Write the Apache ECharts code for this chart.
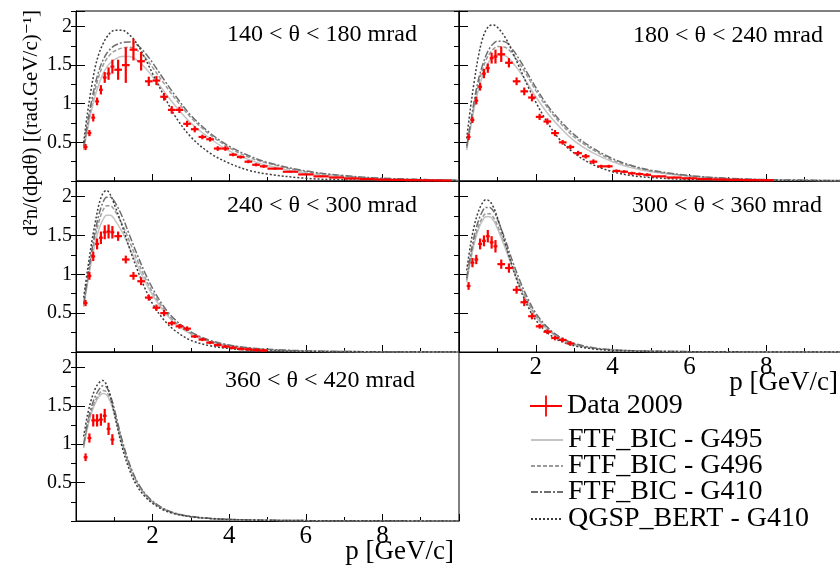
<!DOCTYPE html>
<html>
<head>
<meta charset="utf-8">
<script src="https://cdn.jsdelivr.net/npm/echarts@6/dist/echarts.min.js"></script>
<style>
  html, body { margin: 0; padding: 0; background: #fff; }
  #chart { width: 840px; height: 568px; }
</style>
</head>
<body>
<div id="chart"></div>
<script>
// ---- data: pion momentum spectra in five polar-angle slices ----

// data bins: centres and half widths [GeV/c]
const BIN_CENTER = [0.25, 0.35, 0.45, 0.55, 0.65, 0.75, 0.85, 0.95,
  1.1, 1.3, 1.5, 1.7, 1.9, 2.1, 2.3, 2.5, 2.7, 2.9, 3.1, 3.3, 3.5, 3.7, 3.9, 4.1, 4.3, 4.5, 4.7, 4.9,
  5.2, 5.6, 6.0, 6.4, 6.8, 7.2, 7.6, 8.0, 8.4, 8.8, 9.2, 9.6];
const BIN_HALF = [0.05, 0.05, 0.05, 0.05, 0.05, 0.05, 0.05, 0.05,
  0.1, 0.1, 0.1, 0.1, 0.1, 0.1, 0.1, 0.1, 0.1, 0.1, 0.1, 0.1, 0.1, 0.1, 0.1, 0.1, 0.1, 0.1, 0.1, 0.1,
  0.2, 0.2, 0.2, 0.2, 0.2, 0.2, 0.2, 0.2, 0.2, 0.2, 0.2, 0.2];

// Data 2009 values and errors per slice
const DATA_140 = [0.44, 0.62, 0.82, 1.03, 1.18, 1.34, 1.39, 1.48,
  1.44, 1.50, 1.70, 1.55, 1.29, 1.30, 1.09, 0.92, 0.92, 0.74, 0.67, 0.57, 0.54, 0.42, 0.42, 0.34, 0.31, 0.25, 0.21, 0.19,
  0.16, 0.12, 0.085, 0.06, 0.045, 0.033, 0.025, 0.018, 0.014, 0.011, 0.008, 0.006];
const ERR_140 = [0.04, 0.04, 0.05, 0.05, 0.06, 0.07, 0.08, 0.09,
  0.13, 0.23, 0.14, 0.12, 0.06, 0.06, 0.05, 0.05, 0.04, 0.04, 0.04, 0.03, 0.03, 0.03, 0.03, 0.02, 0.02, 0.02, 0.02, 0.02,
  0.015, 0.01, 0.01, 0.01, 0.01, 0.01, 0.005, 0.005, 0.005, 0.005, 0.005, 0.005];

const DATA_180 = [0.57, 0.79, 1.04, 1.22, 1.39, 1.46, 1.59, 1.61,
  1.64, 1.53, 1.29, 1.16, 1.08, 0.83, 0.77, 0.62, 0.50, 0.44, 0.36, 0.32, 0.25, 0.19, 0.19, 0.13, 0.12, 0.10, 0.09, 0.08,
  0.06, 0.045, 0.035, 0.025, 0.02, 0.015, 0.012, 0.01];
const ERR_180 = [0.04, 0.04, 0.05, 0.05, 0.06, 0.06, 0.07, 0.09,
  0.10, 0.06, 0.05, 0.05, 0.05, 0.04, 0.04, 0.04, 0.03, 0.03, 0.03, 0.03, 0.03, 0.02, 0.02, 0.02, 0.02, 0.02, 0.02, 0.02,
  0.01, 0.01, 0.01, 0.01, 0.01, 0.01, 0.01, 0.01];

const DATA_240 = [0.63, 0.98, 1.23, 1.39, 1.47, 1.54, 1.55, 1.54,
  1.49, 1.19, 0.98, 0.91, 0.70, 0.57, 0.50, 0.37, 0.33, 0.30, 0.20, 0.16, 0.12, 0.09, 0.07, 0.055, 0.04, 0.035, 0.026, 0.02];
const ERR_240 = [0.04, 0.05, 0.06, 0.07, 0.08, 0.09, 0.09, 0.08,
  0.06, 0.05, 0.05, 0.05, 0.04, 0.04, 0.04, 0.03, 0.03, 0.03, 0.02, 0.02, 0.02, 0.02, 0.02, 0.02, 0.02, 0.02, 0.02, 0.02];

const DATA_300 = [0.85, 1.15, 1.19, 1.39, 1.43, 1.49, 1.41, 1.36,
  1.13, 1.08, 0.80, 0.64, 0.46, 0.33, 0.26, 0.18, 0.155, 0.11];
const ERR_300 = [0.05, 0.06, 0.06, 0.07, 0.07, 0.08, 0.08, 0.08,
  0.06, 0.06, 0.05, 0.05, 0.04, 0.03, 0.03, 0.03, 0.03, 0.03];

const DATA_360 = [0.83, 1.08, 1.31, 1.31, 1.32, 1.37, 1.20, 1.06];
const ERR_360 = [0.05, 0.06, 0.08, 0.08, 0.08, 0.09, 0.08, 0.07];

// simulation curves, sampled at MC_P [GeV/c]
const MC_P = [0.2, 0.3, 0.4, 0.5, 0.6, 0.7, 0.8, 0.9, 1.0, 1.2, 1.4, 1.6, 1.8, 2.0, 2.3, 2.6, 3.0, 3.5, 4.0, 4.5, 5.0, 6.0, 7.0, 8.0, 10.0];

const G495_140 = [0.40, 0.66, 0.90, 1.10, 1.26, 1.38, 1.47, 1.53, 1.57, 1.61, 1.61, 1.56, 1.47, 1.35, 1.16, 0.97, 0.75, 0.55, 0.39, 0.28, 0.20, 0.10, 0.05, 0.025, 0.008];
const G496_140 = [0.42, 0.70, 0.96, 1.18, 1.36, 1.49, 1.58, 1.64, 1.68, 1.72, 1.73, 1.69, 1.60, 1.47, 1.26, 1.06, 0.82, 0.60, 0.43, 0.31, 0.23, 0.12, 0.065, 0.032, 0.01];
const G410_140 = [0.45, 0.75, 1.02, 1.25, 1.43, 1.56, 1.65, 1.71, 1.75, 1.79, 1.80, 1.76, 1.66, 1.53, 1.31, 1.10, 0.85, 0.62, 0.45, 0.33, 0.24, 0.13, 0.07, 0.035, 0.01];
const QGSP_140 = [0.50, 0.88, 1.20, 1.47, 1.65, 1.77, 1.86, 1.92, 1.95, 1.95, 1.89, 1.77, 1.59, 1.39, 1.10, 0.83, 0.57, 0.36, 0.23, 0.14, 0.09, 0.035, 0.015, 0.007, 0.002];

const G495_180 = [0.40, 0.68, 0.95, 1.17, 1.34, 1.47, 1.56, 1.61, 1.63, 1.62, 1.53, 1.40, 1.25, 1.09, 0.88, 0.71, 0.52, 0.36, 0.25, 0.17, 0.12, 0.06, 0.03, 0.015, 0.004];
const G496_180 = [0.43, 0.72, 1.00, 1.24, 1.42, 1.56, 1.65, 1.71, 1.74, 1.73, 1.64, 1.50, 1.34, 1.17, 0.95, 0.77, 0.57, 0.40, 0.27, 0.19, 0.13, 0.065, 0.032, 0.016, 0.004];
const G410_180 = [0.45, 0.75, 1.05, 1.30, 1.48, 1.62, 1.72, 1.78, 1.81, 1.80, 1.70, 1.55, 1.38, 1.21, 0.98, 0.80, 0.60, 0.42, 0.29, 0.20, 0.14, 0.07, 0.035, 0.018, 0.005];
const QGSP_180 = [0.55, 0.95, 1.30, 1.60, 1.82, 1.95, 2.01, 2.02, 1.99, 1.86, 1.66, 1.44, 1.22, 1.02, 0.76, 0.55, 0.36, 0.21, 0.12, 0.07, 0.045, 0.018, 0.008, 0.004, 0.001];

const G495_240 = [0.58, 0.88, 1.16, 1.40, 1.58, 1.70, 1.76, 1.76, 1.71, 1.55, 1.34, 1.12, 0.91, 0.73, 0.52, 0.36, 0.23, 0.13, 0.08, 0.047, 0.028, 0.012, 0.005, 0.002, 0.001];
const G496_240 = [0.60, 0.92, 1.22, 1.48, 1.68, 1.82, 1.88, 1.88, 1.83, 1.65, 1.42, 1.18, 0.96, 0.77, 0.55, 0.38, 0.24, 0.14, 0.085, 0.05, 0.03, 0.013, 0.006, 0.003, 0.001];
const G410_240 = [0.62, 0.95, 1.27, 1.55, 1.77, 1.92, 1.99, 1.99, 1.94, 1.75, 1.50, 1.25, 1.02, 0.82, 0.58, 0.41, 0.26, 0.15, 0.09, 0.055, 0.035, 0.015, 0.007, 0.003, 0.001];
const QGSP_240 = [0.70, 1.05, 1.38, 1.66, 1.90, 2.04, 2.08, 2.02, 1.90, 1.63, 1.33, 1.06, 0.82, 0.62, 0.41, 0.27, 0.15, 0.08, 0.045, 0.025, 0.015, 0.006, 0.003, 0.0015, 0.0005];

const G495_300 = [0.90, 1.17, 1.40, 1.57, 1.68, 1.74, 1.74, 1.69, 1.59, 1.34, 1.07, 0.82, 0.62, 0.45, 0.29, 0.18, 0.095, 0.048, 0.025, 0.014, 0.008, 0.004, 0.002, 0.001, 0.0005];
const G496_300 = [0.92, 1.20, 1.44, 1.61, 1.72, 1.78, 1.78, 1.73, 1.63, 1.38, 1.10, 0.85, 0.64, 0.47, 0.30, 0.19, 0.10, 0.05, 0.027, 0.015, 0.009, 0.0045, 0.002, 0.001, 0.0005];
const G410_300 = [0.95, 1.25, 1.50, 1.68, 1.80, 1.86, 1.86, 1.81, 1.71, 1.45, 1.16, 0.90, 0.68, 0.50, 0.32, 0.20, 0.11, 0.055, 0.03, 0.017, 0.01, 0.005, 0.0025, 0.0012, 0.0005];
const QGSP_300 = [1.05, 1.38, 1.63, 1.80, 1.91, 1.96, 1.94, 1.86, 1.73, 1.41, 1.08, 0.80, 0.58, 0.41, 0.25, 0.15, 0.08, 0.04, 0.02, 0.012, 0.008, 0.004, 0.002, 0.001, 0.0005];

const G495_360 = [0.95, 1.21, 1.40, 1.53, 1.62, 1.66, 1.64, 1.55, 1.39, 1.01, 0.70, 0.49, 0.34, 0.245, 0.15, 0.095, 0.056, 0.033, 0.02, 0.013, 0.009, 0.005, 0.003, 0.002, 0.001];
const G496_360 = [0.97, 1.24, 1.43, 1.56, 1.65, 1.70, 1.68, 1.58, 1.42, 1.03, 0.72, 0.50, 0.35, 0.25, 0.155, 0.098, 0.058, 0.034, 0.021, 0.014, 0.01, 0.005, 0.003, 0.002, 0.001];
const G410_360 = [1.00, 1.28, 1.48, 1.62, 1.71, 1.76, 1.74, 1.63, 1.46, 1.06, 0.74, 0.51, 0.36, 0.26, 0.16, 0.10, 0.06, 0.035, 0.022, 0.014, 0.01, 0.005, 0.003, 0.002, 0.001];
const QGSP_360 = [1.10, 1.38, 1.58, 1.72, 1.80, 1.83, 1.77, 1.62, 1.40, 0.97, 0.66, 0.45, 0.32, 0.23, 0.14, 0.09, 0.055, 0.032, 0.02, 0.013, 0.009, 0.005, 0.003, 0.002, 0.001];

// axis tick labels
const X_TICK_LABELS = [2, 4, 6, 8];
const Y_TICK_LABELS = [0.5, 1, 1.5, 2];

// slice names, axis titles and series names
const SLICE_LABELS = ['140 < θ < 180 mrad', '180 < θ < 240 mrad', '240 < θ < 300 mrad', '300 < θ < 360 mrad', '360 < θ < 420 mrad'];
const X_TITLE = 'p [GeV/c]';
const Y_TITLE = 'd²n/(dpdθ) [(rad.GeV/c)⁻¹]';
const DATA_NAME = 'Data 2009';
const MC_NAMES = ['FTF_BIC - G495', 'FTF_BIC - G496', 'FTF_BIC - G410', 'QGSP_BERT - G410'];

const SLICES = [
  { data: DATA_140, err: ERR_140, mc: [G495_140, G496_140, G410_140, QGSP_140] },
  { data: DATA_180, err: ERR_180, mc: [G495_180, G496_180, G410_180, QGSP_180] },
  { data: DATA_240, err: ERR_240, mc: [G495_240, G496_240, G410_240, QGSP_240] },
  { data: DATA_300, err: ERR_300, mc: [G495_300, G496_300, G410_300, QGSP_300] },
  { data: DATA_360, err: ERR_360, mc: [G495_360, G496_360, G410_360, QGSP_360] }
];

// ---- layout and styles ----
const SERIF = "'Liberation Serif', 'DejaVu Serif', serif";
const PANEL_BOX = [
  { left: 76,  top: 11,  width: 383, height: 170, yLabels: true,  xLabels: false, tx: 227, ty: 36 },
  { left: 459, top: 11,  width: 384, height: 170, yLabels: false, xLabels: false, tx: 633, ty: 37 },
  { left: 76,  top: 181, width: 383, height: 171, yLabels: true,  xLabels: false, tx: 227, ty: 207 },
  { left: 459, top: 181, width: 384, height: 171, yLabels: false, xLabels: true,  tx: 632, ty: 207 },
  { left: 76,  top: 352, width: 383, height: 169, yLabels: true,  xLabels: true,  tx: 225, ty: 382 }
];
const MC_STYLE = [
  { color: '#c4c4c4', type: 'solid',        width: 1.5 },
  { color: '#9a9a9a', type: [4, 2],         width: 1.5 },
  { color: '#6e6e6e', type: [7, 2, 2, 2],   width: 1.5 },
  { color: '#3c3c3c', type: [2, 2],         width: 1.5 }
];
const RED = '#ff0000';
const CROSS_ICON = 'path://M0,9.6H32V11.4H0Z M15.1,0H16.9V21H15.1Z';

const grids = [], xAxes = [], yAxes = [], series = [], titles = [], texts = [];

PANEL_BOX.forEach((b, i) => {
  grids.push({
    left: b.left, top: b.top, width: b.width, height: b.height,
    show: true, borderColor: '#000', borderWidth: 1, backgroundColor: 'transparent',
    outerBoundsMode: 'none'
  });

  xAxes.push({
    gridIndex: i, type: 'value', min: 0, max: 10, interval: 2,
    axisLine: { show: true, onZero: false, lineStyle: { color: '#000', width: 1 } },
    axisTick: { show: true, inside: true, length: 7, lineStyle: { color: '#000' } },
    minorTick: { show: true, splitNumber: 2, length: 4, lineStyle: { color: '#000' } },
    splitLine: { show: false },
    axisLabel: {
      show: b.xLabels, margin: 3, fontFamily: SERIF, fontSize: 25, color: '#000',
      formatter: v => (X_TICK_LABELS.indexOf(v) >= 0 ? String(v) : '')
    }
  });

  // major ticks (every 0.5) with labels
  yAxes.push({
    gridIndex: i, type: 'value', min: 0, max: 2.2, interval: 0.5,
    axisLine: { show: true, onZero: false, lineStyle: { color: '#000', width: 1 } },
    axisTick: { show: true, inside: true, length: 9, lineStyle: { color: '#000' } },
    splitLine: { show: false },
    axisLabel: {
      show: b.yLabels, margin: 4, fontFamily: SERIF, fontSize: 20, color: '#000',
      formatter: v => (Y_TICK_LABELS.some(t => Math.abs(t - v) < 1e-9) ? String(v) : '')
    }
  });
  // minor ticks (every 0.25)
  yAxes.push({
    gridIndex: i, type: 'value', min: 0, max: 2.2, interval: 0.25,
    axisLine: { show: false },
    axisTick: { show: true, inside: true, length: 5, lineStyle: { color: '#000' } },
    splitLine: { show: false },
    axisLabel: { show: false }
  });

  const s = SLICES[i];
  MC_NAMES.forEach((name, k) => {
    const st = MC_STYLE[k];
    series.push({
      name, type: 'line', xAxisIndex: i, yAxisIndex: 2 * i,
      data: MC_P.map((p, j) => [p, s.mc[k][j]]),
      smooth: 0.35, symbol: 'none', silent: true, z: 2 + k,
      itemStyle: { color: st.color },
      lineStyle: { color: st.color, width: st.width, type: st.type }
    });
  });

  series.push({
    name: DATA_NAME, type: 'custom', xAxisIndex: i, yAxisIndex: 2 * i, z: 10,
    itemStyle: { color: RED },
    encode: { x: 0, y: 1 },
    data: s.data.map((v, j) => [BIN_CENTER[j], v, BIN_HALF[j], s.err[j]]),
    renderItem: (params, api) => {
      const p = api.value(0), v = api.value(1), dp = api.value(2), dv = api.value(3);
      const a = api.coord([p - dp, v]), b2 = api.coord([p + dp, v]);
      const c = api.coord([p, Math.max(0, v - dv)]), d = api.coord([p, v + dv]);
      const style = { stroke: RED, lineWidth: 2.2 };
      return {
        type: 'group',
        children: [
          { type: 'line', shape: { x1: a[0], y1: a[1], x2: b2[0], y2: b2[1] }, style },
          { type: 'line', shape: { x1: c[0], y1: c[1], x2: d[0], y2: d[1] }, style }
        ]
      };
    }
  });

  titles.push({
    text: SLICE_LABELS[i], left: b.tx, top: b.ty - 13, padding: 0,
    textStyle: { fontFamily: SERIF, fontSize: 24, fontWeight: 'normal', color: '#000' }
  });

  // momentum axis title under the panels that carry x labels
  if (b.xLabels) {
    texts.push({
      type: 'text', x: b.left + b.width - 5, y: b.top + b.height + 31,
      style: { text: X_TITLE, fontFamily: SERIF, fontSize: 27, fill: '#000', align: 'right', verticalAlign: 'middle' }
    });
  }
});

texts.push({
  type: 'text', x: 31, y: 123, rotation: Math.PI / 2,
  style: { text: Y_TITLE, fontFamily: SERIF, fontSize: 21, fill: '#000', align: 'center', verticalAlign: 'middle' }
});

const LEGEND_ROWS = [
  { name: DATA_NAME, cy: 406 },
  { name: MC_NAMES[0], cy: 440 },
  { name: MC_NAMES[1], cy: 466 },
  { name: MC_NAMES[2], cy: 492 },
  { name: MC_NAMES[3], cy: 519 }
];
const legends = LEGEND_ROWS.map((r, i) => ({
  data: [i === 0 ? { name: r.name, icon: CROSS_ICON } : r.name],
  left: 530, top: r.cy - 14, padding: 0, itemGap: 0,
  itemWidth: 32, itemHeight: i === 0 ? 21 : 14,
  selectedMode: false,
  itemStyle: i === 0 ? {} : { opacity: 0 },
  textStyle: { fontFamily: SERIF, fontSize: 28, color: '#000' }
}));

const chart = echarts.init(document.getElementById('chart'), null, { renderer: 'canvas' });
chart.setOption({
  backgroundColor: '#fff',
  animation: false,
  title: titles,
  legend: legends,
  grid: grids,
  xAxis: xAxes,
  yAxis: yAxes,
  series,
  graphic: texts
});
</script>
</body>
</html>
